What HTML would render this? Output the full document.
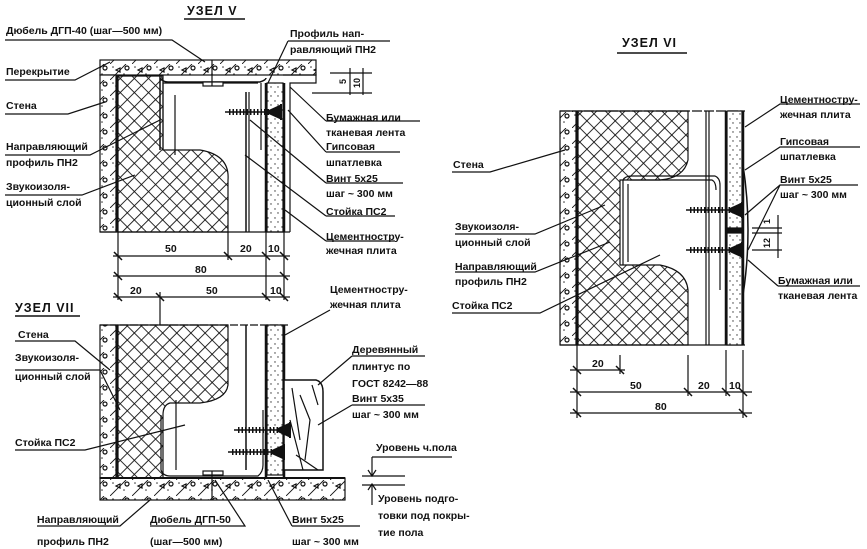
<!DOCTYPE html>
<html><head><meta charset="utf-8"><style>
html,body{margin:0;padding:0;background:#fff}
svg{display:block}
text{font-family:"Liberation Sans",sans-serif;font-weight:bold;font-size:10.5px;fill:#111}
.t{font-size:12.5px;letter-spacing:1px}
</style></head><body>
<svg width="867" height="549" viewBox="0 0 867 549" xmlns="http://www.w3.org/2000/svg">
<defs>
<pattern id="x" width="10" height="10" patternUnits="userSpaceOnUse" patternTransform="rotate(45)">
<rect width="10" height="10" fill="#fff"/><path d="M0 0H10M0 0V10" stroke="#111" stroke-width="1.8"/>
</pattern>
<pattern id="d" width="7" height="9" patternUnits="userSpaceOnUse">
<rect width="7" height="9" fill="#fff"/><circle cx="2" cy="2" r="0.7" fill="#333"/><circle cx="5" cy="6" r="0.7" fill="#333"/>
</pattern>
<pattern id="c" width="22" height="16" patternUnits="userSpaceOnUse">
<rect width="22" height="16" fill="#fff"/><circle cx="3" cy="3" r="0.8" fill="#333"/><circle cx="14" cy="10" r="0.8" fill="#333"/>
<path d="M6 6l4 -2l0 4z" fill="none" stroke="#111" stroke-width="1.2"/><circle cx="17" cy="4" r="2" fill="none" stroke="#111" stroke-width="1.2"/>
<path d="M0 16L16 0" stroke="#111" stroke-width="0.9"/>
</pattern>
<g id="screw"><line x1="0" y1="0" x2="48" y2="0" stroke="#111" stroke-width="1.5"/><line x1="4" y1="0" x2="44" y2="0" stroke="#111" stroke-width="6" stroke-dasharray="1.5 2"/><path d="M44 -1.5L56 -7V7L44 1.5Z" fill="#111"/><line x1="56" y1="-8" x2="56" y2="8" stroke="#111" stroke-width="2"/></g>
</defs>

<g stroke="#111" fill="none" stroke-width="1.2">
<!-- ===== УЗЕЛ V ===== -->
<line x1="184" y1="19" x2="245" y2="19" stroke-width="1.5"/>
<rect x="100" y="60" width="216" height="15" fill="url(#c)"/>
<path d="M283 75H316V83H290V232" />
<rect x="100" y="75" width="16" height="157" fill="url(#c)"/>
<line x1="117" y1="75" x2="117" y2="232" stroke-width="3"/>
<path d="M118 76H163V150H200Q230 155 228 180V232H118Z" fill="url(#x)"/>
<path d="M160 150V78Q163 82 168 82H260Q266 80 266 78" stroke-width="1.5"/>
<path d="M163 150V83H258"/>
<line x1="175" y1="95" x2="175" y2="155"/>
<line x1="246" y1="92" x2="246" y2="232" stroke-width="1.5"/>
<line x1="249" y1="92" x2="249" y2="232"/>
<line x1="261" y1="83" x2="261" y2="150"/>
<rect x="203" y="82" width="20" height="4" fill="#fff"/><line x1="212" y1="60" x2="212" y2="86"/>
<rect x="267" y="83" width="16" height="149" fill="url(#d)"/>
<line x1="266" y1="83" x2="266" y2="232" stroke-width="2.5"/><line x1="284" y1="83" x2="284" y2="232" stroke-width="2.5"/>
<use href="#screw" transform="translate(225,112)"/>
<line x1="100" y1="232" x2="290" y2="232"/>
<line x1="312" y1="93" x2="372" y2="93"/><line x1="330" y1="73" x2="372" y2="73"/>
<line x1="350" y1="68" x2="350" y2="95"/><line x1="363" y1="68" x2="363" y2="95"/>
<line x1="113" y1="256" x2="290" y2="256"/><line x1="113" y1="276" x2="290" y2="276"/>
<line x1="118" y1="232" x2="118" y2="300"/><line x1="228" y1="232" x2="228" y2="260"/><line x1="266" y1="232" x2="266" y2="300"/><line x1="284" y1="232" x2="284" y2="300"/>
<path d="M114 252l8 8M224 252l8 8M262 252l8 8M280 252l8 8M114 272l8 8M280 272l8 8" stroke-width="1.5"/>
<path d="M5 40H172L205 62"/><path d="M5 80H75L110 62"/><path d="M5 114H68L105 102"/><path d="M5 155H90L160 120"/><path d="M5 195H82L135 175"/>
<path d="M288 41H390M288 41L268 83"/>
<path d="M326 121H420M326 121L290 87"/><path d="M326 152H400M326 152L288 110"/><path d="M326 183H403M326 183L250 120"/><path d="M326 216H395M326 216L245 155"/><path d="M326 241H395M326 241L285 210"/>
</g>
<g stroke="none">
<text x="187" y="15" class="t">УЗЕЛ  V</text>
<text x="6" y="34">Дюбель ДГП-40 (шаг—500 мм)</text>
<text x="6" y="75">Перекрытие</text>
<text x="6" y="109">Стена</text>
<text x="6" y="150">Направляющий</text><text x="6" y="166">профиль ПН2</text>
<text x="6" y="190">Звукоизоля-</text><text x="6" y="206">ционный слой</text>
<text x="290" y="37">Профиль нап-</text><text x="290" y="53">равляющий ПН2</text>
<text x="326" y="121">Бумажная или</text><text x="326" y="136">тканевая лента</text>
<text x="326" y="150">Гипсовая</text><text x="326" y="166">шпатлевка</text>
<text x="326" y="182">Винт 5х25</text><text x="326" y="197">шаг ~ 300 мм</text>
<text x="326" y="215">Стойка ПС2</text>
<text x="326" y="240">Цементностру-</text><text x="326" y="254">жечная плита</text>
<text x="165" y="252">50</text><text x="240" y="252">20</text><text x="268" y="252">10</text>
<text x="195" y="273">80</text>
<text transform="translate(346,84) rotate(-90)" style="font-size:9px">5</text>
<text transform="translate(360,88) rotate(-90)" style="font-size:9px">10</text>
</g>

<!-- ===== УЗЕЛ VII ===== -->
<g stroke="#111" fill="none" stroke-width="1.2">
<line x1="113" y1="297" x2="290" y2="297"/>
<path d="M114 293l8 8M156 293l8 8M262 293l8 8M280 293l8 8" stroke-width="1.5"/>
<line x1="160" y1="292" x2="160" y2="325"/>
<line x1="15" y1="316" x2="80" y2="316" stroke-width="1.5"/>
<rect x="100" y="325" width="16" height="153" fill="url(#c)"/>
<line x1="117" y1="325" x2="117" y2="478" stroke-width="3"/>
<path d="M118 325H228V385Q226 400 200 403H170Q163 405 163 415V478H118Z" fill="url(#x)"/>
<line x1="100" y1="325" x2="290" y2="325" stroke-dasharray="8 2"/>
<path d="M161 415V470Q163 476 170 476H258Q263 472 263 465V410"/>
<line x1="176" y1="400" x2="176" y2="470"/>
<line x1="246" y1="325" x2="246" y2="470" stroke-width="1.5"/>
<rect x="267" y="325" width="16" height="150" fill="url(#d)"/>
<line x1="266" y1="325" x2="266" y2="478" stroke-width="2.5"/><line x1="284" y1="325" x2="284" y2="478" stroke-width="2.5"/>
<rect x="100" y="478" width="245" height="22" fill="url(#c)"/>
<line x1="100" y1="478" x2="345" y2="478" stroke-width="2"/>
<rect x="203" y="471" width="20" height="4" fill="#fff"/><line x1="212" y1="471" x2="212" y2="500"/>
<path d="M284 380H316Q323 382 323 392V470H284Z" fill="#fff" stroke-width="1.5"/>
<path d="M292 388L300 440M300 395L310 420L305 460M312 385L318 405M290 420L303 470M296 455L318 470"/>
<use href="#screw" transform="translate(234,430)"/>
<use href="#screw" transform="translate(228,452)"/>
<line x1="372" y1="457" x2="372" y2="475"/><path d="M368 470L372 476L376 470"/>
<line x1="372" y1="485" x2="372" y2="505"/><path d="M368 490L372 484L376 490"/>
<line x1="362" y1="476" x2="405" y2="476"/><line x1="362" y1="485" x2="405" y2="485"/>
<path d="M372 457H452"/>
<path d="M15 341H75L110 370"/><path d="M15 370H100L120 410"/><path d="M15 450H85L185 425"/>
<path d="M330 310L285 335"/><path d="M352 356H425M352 356L318 385"/><path d="M352 405H425M352 405L318 425"/>
<path d="M37 526H120L150 500"/><path d="M150 526H245L215 480"/><path d="M292 526H360M292 526L268 480"/>
</g>
<g stroke="none">
<text x="15" y="312" class="t">УЗЕЛ  VII</text>
<text x="130" y="294">20</text><text x="206" y="294">50</text><text x="270" y="294">10</text>
<text x="18" y="338">Стена</text>
<text x="15" y="361">Звукоизоля-</text><text x="15" y="380">ционный слой</text>
<text x="15" y="446">Стойка ПС2</text>
<text x="330" y="293">Цементностру-</text><text x="330" y="308">жечная плита</text>
<text x="352" y="353">Деревянный</text><text x="352" y="370">плинтус по</text><text x="352" y="387">ГОСТ 8242—88</text>
<text x="352" y="402">Винт 5х35</text><text x="352" y="418">шаг ~ 300 мм</text>
<text x="376" y="451">Уровень ч.пола</text>
<text x="378" y="502">Уровень подго-</text><text x="378" y="519">товки под покры-</text><text x="378" y="536">тие пола</text>
<text x="37" y="523">Направляющий</text><text x="37" y="545">профиль ПН2</text>
<text x="150" y="523">Дюбель ДГП-50</text><text x="150" y="545">(шаг—500 мм)</text>
<text x="292" y="523">Винт 5х25</text><text x="292" y="545">шаг ~ 300 мм</text>
</g>

<!-- ===== УЗЕЛ VI ===== -->
<g stroke="#111" fill="none" stroke-width="1.2">
<line x1="617" y1="53" x2="687" y2="53" stroke-width="1.5"/>
<rect x="560" y="111" width="16" height="234" fill="url(#c)"/>
<line x1="577" y1="111" x2="577" y2="345" stroke-width="3"/>
<path d="M578 111H688V160Q684 178 660 180H620V265H660Q686 270 688 290V345H578Z" fill="url(#x)"/>
<line x1="560" y1="111" x2="745" y2="111" stroke-dasharray="10 2"/>
<line x1="560" y1="345" x2="745" y2="345"/>
<path d="M623 180V265M628 184V262M623 180Q625 176 632 176H715Q720 178 720 185V290"/>
<path d="M630 180H712Q716 182 716 190"/>
<line x1="706" y1="111" x2="706" y2="345"/><line x1="709" y1="111" x2="709" y2="345"/>
<rect x="727" y="111" width="15" height="234" fill="url(#d)"/>
<line x1="726" y1="111" x2="726" y2="345" stroke-width="2.5"/><line x1="743" y1="111" x2="743" y2="345" stroke-width="2.5"/>
<rect x="726" y="228" width="17" height="5" fill="#111"/>
<path d="M743 165Q753 230 743 295" stroke-width="1.5"/>
<use href="#screw" transform="translate(686,210)"/>
<use href="#screw" transform="translate(686,250)"/>
<line x1="752" y1="228" x2="782" y2="228"/><line x1="752" y1="233" x2="782" y2="233"/><line x1="752" y1="250" x2="782" y2="250"/>
<line x1="778" y1="215" x2="778" y2="258"/>
<line x1="570" y1="370" x2="625" y2="370"/><line x1="570" y1="392" x2="752" y2="392"/><line x1="570" y1="413" x2="752" y2="413"/>
<line x1="577" y1="345" x2="577" y2="418"/><line x1="620" y1="355" x2="620" y2="374"/><line x1="688" y1="355" x2="688" y2="396"/><line x1="726" y1="350" x2="726" y2="396"/><line x1="743" y1="350" x2="743" y2="418"/>
<path d="M573 366l8 8M616 366l8 8M573 388l8 8M684 388l8 8M722 388l8 8M739 388l8 8M573 409l8 8M739 409l8 8" stroke-width="1.5"/>
<path d="M452 172H490L565 150"/><path d="M455 234H535L605 205"/><path d="M455 272H535L610 242"/><path d="M452 313H540L660 255"/>
<path d="M860 104H780L745 127"/><path d="M860 147H780L745 170"/><path d="M858 185H780L745 215M780 185L748 250"/><path d="M778 286H860M778 286L748 260"/>
</g>
<g stroke="none">
<text x="622" y="47" class="t">УЗЕЛ  VI</text>
<text x="453" y="168">Стена</text>
<text x="455" y="230">Звукоизоля-</text><text x="455" y="246">ционный слой</text>
<text x="455" y="270">Направляющий</text><text x="455" y="285">профиль ПН2</text>
<text x="452" y="309">Стойка ПС2</text>
<text x="780" y="103">Цементностру-</text><text x="780" y="118">жечная плита</text>
<text x="780" y="145">Гипсовая</text><text x="780" y="160">шпатлевка</text>
<text x="780" y="183">Винт 5х25</text><text x="780" y="198">шаг ~ 300 мм</text>
<text x="778" y="284">Бумажная или</text><text x="778" y="299">тканевая лента</text>
<text x="592" y="367">20</text><text x="630" y="389">50</text><text x="698" y="389">20</text><text x="729" y="389">10</text><text x="655" y="410">80</text>
<text transform="translate(770,224) rotate(-90)" style="font-size:9px">1</text>
<text transform="translate(770,248) rotate(-90)" style="font-size:9px">12</text>
</g>
</svg>
</body></html>
